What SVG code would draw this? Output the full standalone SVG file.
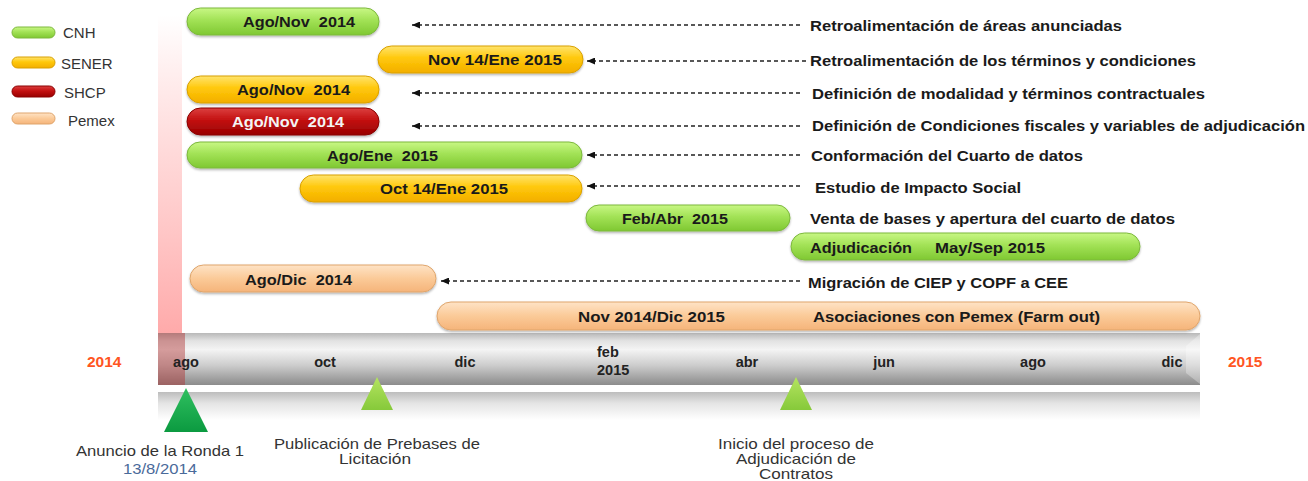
<svg xmlns="http://www.w3.org/2000/svg" width="1308" height="481" viewBox="0 0 1308 481">
<style>
.bl{font-family:"Liberation Sans",Arial,sans-serif;font-weight:bold;font-size:15.5px;fill:#1a1a1a}
.rl{font-family:"Liberation Sans",Arial,sans-serif;font-weight:bold;font-size:15.5px;fill:#1a1a1a}
.lg{font-family:"Liberation Sans",Arial,sans-serif;font-size:15px;fill:#333}
.mo{font-family:"Liberation Sans",Arial,sans-serif;font-weight:bold;font-size:14.5px;fill:#222}
.yr{font-family:"Liberation Sans",Arial,sans-serif;font-weight:bold;font-size:15.5px;fill:#ff5522}
.bt{font-family:"Liberation Sans",Arial,sans-serif;font-size:15px;fill:#333}
.green{fill:url(#gGreen);stroke:#7cb83c;stroke-width:1}
.yellow{fill:url(#gYellow);stroke:#d9a000;stroke-width:1}
.red{fill:url(#gRed);stroke:#8a0000;stroke-width:1}
.peach{fill:url(#gPeach);stroke:#dfa56c;stroke-width:1}
.bar{filter:url(#sh)}
.dash{stroke:#222;stroke-width:1.3;stroke-dasharray:4 3;fill:none;marker-end:url(#ah)}
</style>
<defs>
<linearGradient id="gGreen" x1="0" y1="0" x2="0" y2="1"><stop offset="0" stop-color="#c8f784"/><stop offset="0.45" stop-color="#a2e256"/><stop offset="1" stop-color="#7fc832"/></linearGradient>
<linearGradient id="gYellow" x1="0" y1="0" x2="0" y2="1"><stop offset="0" stop-color="#ffe46e"/><stop offset="0.45" stop-color="#ffc80a"/><stop offset="1" stop-color="#f3ae00"/></linearGradient>
<linearGradient id="gRed" x1="0" y1="0" x2="0" y2="1"><stop offset="0" stop-color="#dc4040"/><stop offset="0.45" stop-color="#c31010"/><stop offset="1" stop-color="#980000"/></linearGradient>
<linearGradient id="gPeach" x1="0" y1="0" x2="0" y2="1"><stop offset="0" stop-color="#fee3c6"/><stop offset="0.5" stop-color="#fbca98"/><stop offset="1" stop-color="#f5b47a"/></linearGradient>
<linearGradient id="gBar" x1="0" y1="0" x2="0" y2="1"><stop offset="0" stop-color="#b8b8b8"/><stop offset="0.15" stop-color="#e2e2e2"/><stop offset="0.32" stop-color="#f4f4f4"/><stop offset="0.62" stop-color="#cdcdcd"/><stop offset="0.9" stop-color="#9c9c9c"/><stop offset="1" stop-color="#8c8c8c"/></linearGradient>
<linearGradient id="gRefl" x1="0" y1="0" x2="0" y2="1"><stop offset="0" stop-color="#bdbdbd"/><stop offset="0.4" stop-color="#e4e4e4"/><stop offset="1" stop-color="#ffffff"/></linearGradient>
<linearGradient id="gPink" x1="0" y1="0" x2="0" y2="1"><stop offset="0" stop-color="#ffb0b0" stop-opacity="0"/><stop offset="0.5" stop-color="#ffb8b8" stop-opacity="0.6"/><stop offset="1" stop-color="#ffaaaa" stop-opacity="1"/></linearGradient>
<linearGradient id="gTriD" x1="0" y1="0" x2="0" y2="1"><stop offset="0" stop-color="#30c060"/><stop offset="1" stop-color="#0b9a40"/></linearGradient>
<linearGradient id="gTriL" x1="0" y1="0" x2="0" y2="1"><stop offset="0" stop-color="#b4e460"/><stop offset="1" stop-color="#86c93a"/></linearGradient>
<filter id="sh" x="-5%" y="-30%" width="110%" height="170%"><feDropShadow dx="0" dy="1.5" stdDeviation="1" flood-color="#000" flood-opacity="0.3"/></filter>
<marker id="ah" viewBox="0 0 8 7" refX="8" refY="3.5" markerWidth="8" markerHeight="7" markerUnits="userSpaceOnUse" orient="auto"><path d="M0,0 L8,3.5 L0,7 z" fill="#111"/></marker>
</defs>
<rect width="1308" height="481" fill="#ffffff"/>

<g id="legend">
<rect class="green" x="12" y="27" width="43" height="11" rx="5.5"/>
<text class="lg" x="63" y="38">CNH</text>
<rect class="yellow" x="12" y="57" width="43" height="11" rx="5.5"/>
<text class="lg" x="61" y="69">SENER</text>
<rect class="red" x="12" y="86" width="43" height="11" rx="5.5"/>
<text class="lg" x="64" y="98">SHCP</text>
<rect class="peach" x="12" y="113" width="43" height="11" rx="5.5"/>
<text class="lg" x="68" y="126">Pemex</text>
</g>

<g id="pink-strip">
<rect x="158" y="15" width="24" height="318" fill="url(#gPink)"/>
</g>

<g id="timeline">
<rect x="158" y="333" width="1042" height="52" fill="url(#gBar)"/>
<polygon points="1186,346 1200,334 1200,384 1186,373" fill="#ffffff" opacity="0.3"/>
<rect x="158" y="333" width="27" height="52" fill="#b03030" opacity="0.45"/>
<rect x="158" y="392" width="1042" height="28" fill="url(#gRefl)"/>
<text class="yr" x="87" y="367">2014</text>
<text class="yr" x="1228" y="367">2015</text>
<text class="mo" x="186" y="367" text-anchor="middle">ago</text>
<text class="mo" x="325" y="367" text-anchor="middle">oct</text>
<text class="mo" x="465" y="367" text-anchor="middle">dic</text>
<text class="mo" x="597" y="357">feb</text>
<text class="mo" x="597" y="375">2015</text>
<text class="mo" x="747" y="367" text-anchor="middle">abr</text>
<text class="mo" x="884" y="367" text-anchor="middle">jun</text>
<text class="mo" x="1033" y="367" text-anchor="middle">ago</text>
<text class="mo" x="1172" y="367" text-anchor="middle">dic</text>
</g>

<g id="milestone-anuncio">
<polygon points="186,388 208,432 164,432" fill="url(#gTriD)"/>
<text class="bt" x="76" y="456" textLength="168" lengthAdjust="spacingAndGlyphs">Anuncio de la Ronda 1</text>
<text class="bt" x="123" y="474" style="fill:#4a6a9a" textLength="74" lengthAdjust="spacingAndGlyphs">13/8/2014</text>
</g>
<g id="milestone-prebases">
<polygon points="377,377 393,410 361,410" fill="url(#gTriL)"/>
<text class="bt" x="274" y="449" textLength="206" lengthAdjust="spacingAndGlyphs">Publicación de Prebases de</text>
<text class="bt" x="339" y="464" textLength="72" lengthAdjust="spacingAndGlyphs">Licitación</text>
</g>
<g id="milestone-inicio">
<polygon points="796,377 812,410 780,410" fill="url(#gTriL)"/>
<text class="bt" x="718" y="449" textLength="156" lengthAdjust="spacingAndGlyphs">Inicio del proceso de</text>
<text class="bt" x="736" y="464" textLength="120" lengthAdjust="spacingAndGlyphs">Adjudicación de</text>
<text class="bt" x="759" y="479" textLength="74" lengthAdjust="spacingAndGlyphs">Contratos</text>
</g>

<g id="connectors">
<line class="dash" x1="800" y1="25" x2="412" y2="25"/>
<line class="dash" x1="806" y1="61" x2="587" y2="61"/>
<line class="dash" x1="800" y1="93" x2="412" y2="93"/>
<line class="dash" x1="800" y1="126" x2="412" y2="126"/>
<line class="dash" x1="800" y1="155" x2="587" y2="155"/>
<line class="dash" x1="800" y1="186" x2="587" y2="186"/>
<line class="dash" x1="800" y1="281" x2="441" y2="281"/>
</g>

<g id="task-retro-areas">
<rect class="green bar" x="187" y="8" width="192" height="27" rx="13.5"/>
<text class="bl" x="243" y="27" xml:space="preserve" textLength="112" lengthAdjust="spacingAndGlyphs">Ago/Nov  2014</text>
<text class="rl" x="810" y="31" textLength="312" lengthAdjust="spacingAndGlyphs">Retroalimentación de áreas anunciadas</text>
</g>
<g id="task-retro-terminos">
<rect class="yellow bar" x="378" y="46" width="205" height="27" rx="13.5"/>
<text class="bl" x="428" y="65" textLength="134" lengthAdjust="spacingAndGlyphs">Nov 14/Ene 2015</text>
<text class="rl" x="810" y="66" textLength="386" lengthAdjust="spacingAndGlyphs">Retroalimentación de los términos y condiciones</text>
</g>
<g id="task-modalidad">
<rect class="yellow bar" x="187" y="76" width="192" height="27" rx="13.5"/>
<text class="bl" x="237" y="95" xml:space="preserve" textLength="113" lengthAdjust="spacingAndGlyphs">Ago/Nov  2014</text>
<text class="rl" x="812" y="99" textLength="393" lengthAdjust="spacingAndGlyphs">Definición de modalidad y términos contractuales</text>
</g>
<g id="task-fiscales">
<rect class="red bar" x="187" y="108" width="192" height="27" rx="13.5"/>
<text class="bl" x="232" y="127" xml:space="preserve" style="fill:#f4f4f4" textLength="112" lengthAdjust="spacingAndGlyphs">Ago/Nov  2014</text>
<text class="rl" x="812" y="131" textLength="493" lengthAdjust="spacingAndGlyphs">Definición de Condiciones fiscales y variables de adjudicación</text>
</g>
<g id="task-cuarto-datos">
<rect class="green bar" x="187" y="142" width="395" height="26" rx="13"/>
<text class="bl" x="327" y="161" xml:space="preserve" textLength="111" lengthAdjust="spacingAndGlyphs">Ago/Ene  2015</text>
<text class="rl" x="811" y="161" textLength="272" lengthAdjust="spacingAndGlyphs">Conformación del Cuarto de datos</text>
</g>
<g id="task-impacto">
<rect class="yellow bar" x="300" y="175" width="282" height="27" rx="13.5"/>
<text class="bl" x="380" y="194" textLength="128" lengthAdjust="spacingAndGlyphs">Oct 14/Ene 2015</text>
<text class="rl" x="815" y="193" textLength="206" lengthAdjust="spacingAndGlyphs">Estudio de Impacto Social</text>
</g>
<g id="task-venta-bases">
<rect class="green bar" x="586" y="205" width="204" height="26" rx="13"/>
<text class="bl" x="622" y="224" xml:space="preserve" textLength="106" lengthAdjust="spacingAndGlyphs">Feb/Abr  2015</text>
<text class="rl" x="810" y="224" textLength="365" lengthAdjust="spacingAndGlyphs">Venta de bases y apertura del cuarto de datos</text>
</g>
<g id="task-adjudicacion">
<rect class="green bar" x="791" y="233" width="349" height="27" rx="13.5"/>
<text class="bl" x="810" y="253" textLength="102" lengthAdjust="spacingAndGlyphs">Adjudicación</text>
<text class="bl" x="935" y="253" textLength="110" lengthAdjust="spacingAndGlyphs">May/Sep 2015</text>
</g>
<g id="task-migracion">
<rect class="peach bar" x="190" y="265" width="246" height="27" rx="13.5"/>
<text class="bl" x="245" y="285" xml:space="preserve" textLength="107" lengthAdjust="spacingAndGlyphs">Ago/Dic  2014</text>
<text class="rl" x="808" y="288" textLength="260" lengthAdjust="spacingAndGlyphs">Migración de CIEP y COPF a CEE</text>
</g>
<g id="task-farm-out">
<rect class="peach bar" x="437" y="302" width="763" height="28" rx="14"/>
<text class="bl" x="578" y="322" textLength="147" lengthAdjust="spacingAndGlyphs">Nov 2014/Dic 2015</text>
<text class="bl" x="813" y="322" textLength="287" lengthAdjust="spacingAndGlyphs">Asociaciones con Pemex (Farm out)</text>
</g>
</svg>
